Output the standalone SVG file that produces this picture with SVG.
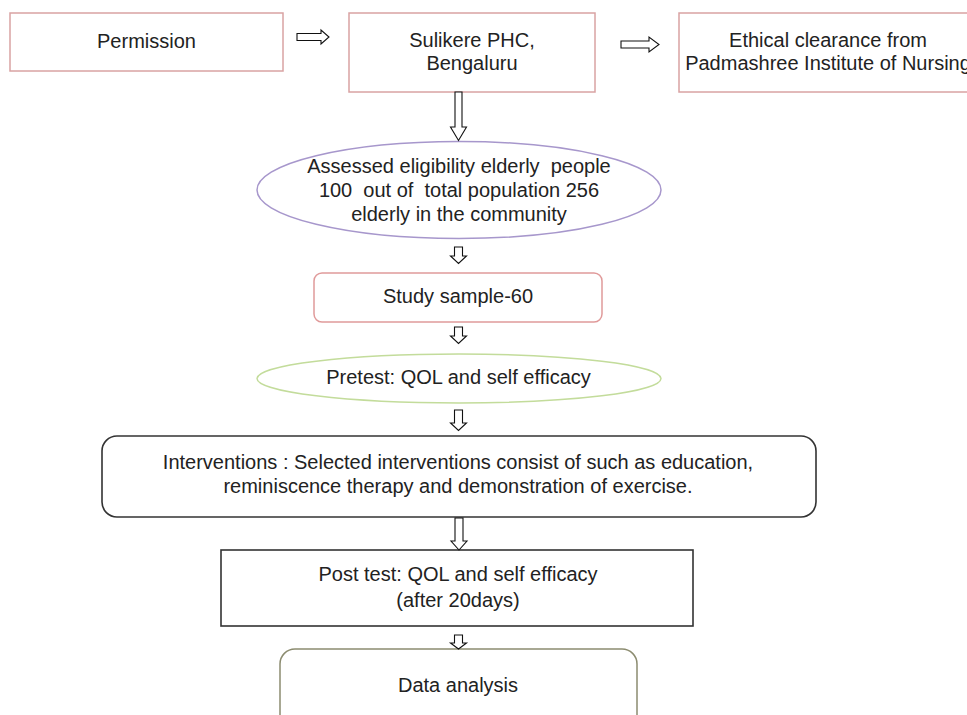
<svg xmlns="http://www.w3.org/2000/svg" width="967" height="715" viewBox="0 0 967 715">
<style>
text{font-family:"Liberation Sans",Arial,sans-serif;font-size:20px;fill:#222;text-anchor:middle;white-space:pre}
.pink{fill:#fff;stroke:#d9a3a3;stroke-width:1.5}
.arr{fill:#fff;stroke:#111;stroke-width:1.1;stroke-linejoin:miter}
</style>
<rect width="967" height="715" fill="#fff"/>
<g id="permission">
<rect class="pink" x="10" y="13" width="273" height="58"/>
<text x="146.5" y="48">Permission</text>
</g>
<g id="sulikere">
<rect class="pink" x="349" y="13" width="246" height="79"/>
<text x="472" y="47">Sulikere PHC,</text>
<text x="472" y="70">Bengaluru</text>
</g>
<g id="ethical">
<rect class="pink" x="679" y="13" width="298" height="79"/>
<text x="828" y="47">Ethical clearance from</text>
<text x="828" y="70">Padmashree Institute of Nursing</text>
</g>
<g id="assessed">
<ellipse cx="459" cy="190" rx="202" ry="48.5" fill="#fff" stroke="#a797cc" stroke-width="1.5"/>
<text x="459" y="173" xml:space="preserve">Assessed eligibility elderly  people</text>
<text x="459" y="197" xml:space="preserve">100  out of  total population 256</text>
<text x="459" y="221">elderly in the community</text>
</g>
<g id="study">
<rect x="314" y="273" width="288" height="49" rx="8" fill="#fff" stroke="#e09a9a" stroke-width="1.5"/>
<text x="458" y="303">Study sample-60</text>
</g>
<g id="pretest">
<ellipse cx="459" cy="378.5" rx="202" ry="24.5" fill="#fff" stroke="#c3dc9b" stroke-width="1.5"/>
<text x="458.5" y="384">Pretest: QOL and self efficacy</text>
</g>
<g id="interventions">
<rect x="102" y="436" width="714" height="81" rx="15" fill="#fff" stroke="#333" stroke-width="1.6"/>
<text x="458" y="469">Interventions : Selected interventions consist of such as education,</text>
<text x="458" y="493">reminiscence therapy and demonstration of exercise.</text>
</g>
<g id="posttest">
<rect x="221" y="550" width="472" height="76" fill="#fff" stroke="#333" stroke-width="1.6"/>
<text x="458" y="581">Post test: QOL and self efficacy</text>
<text x="458" y="607">(after 20days)</text>
</g>
<g id="data">
<rect x="280" y="649" width="357" height="90" rx="15" fill="#fff" stroke="#8c8c70" stroke-width="1.5"/>
<text x="458" y="692">Data analysis</text>
</g>
<g id="connectors">
<polygon class="arr" points="297,33.5 321,33.5 321,30 329,37 321,44 321,40.5 297,40.5"/>
<polygon class="arr" points="621,41 649,41 649,37 659,44.5 649,52 649,48 621,48"/>
<polygon class="arr" points="455,92 462,92 462,127 466.5,127 458.5,140.5 450.5,127 455,127"/>
<polygon class="arr" points="454.5,247 462.5,247 462.5,256 466.5,256 458.5,263.5 450.5,256 454.5,256"/>
<polygon class="arr" points="454.5,327 462.5,327 462.5,336 466.5,336 458.5,343.5 450.5,336 454.5,336"/>
<polygon class="arr" points="454.5,410 462.5,410 462.5,423 466.5,423 458.5,430.5 450.5,423 454.5,423"/>
<polygon class="arr" points="455,518 463,518 463,541 467,541 459,550 451,541 455,541"/>
<polygon class="arr" points="454.5,635 462.5,635 462.5,643 466.5,643 458.5,649 450.5,643 454.5,643"/>
</g>
</svg>
